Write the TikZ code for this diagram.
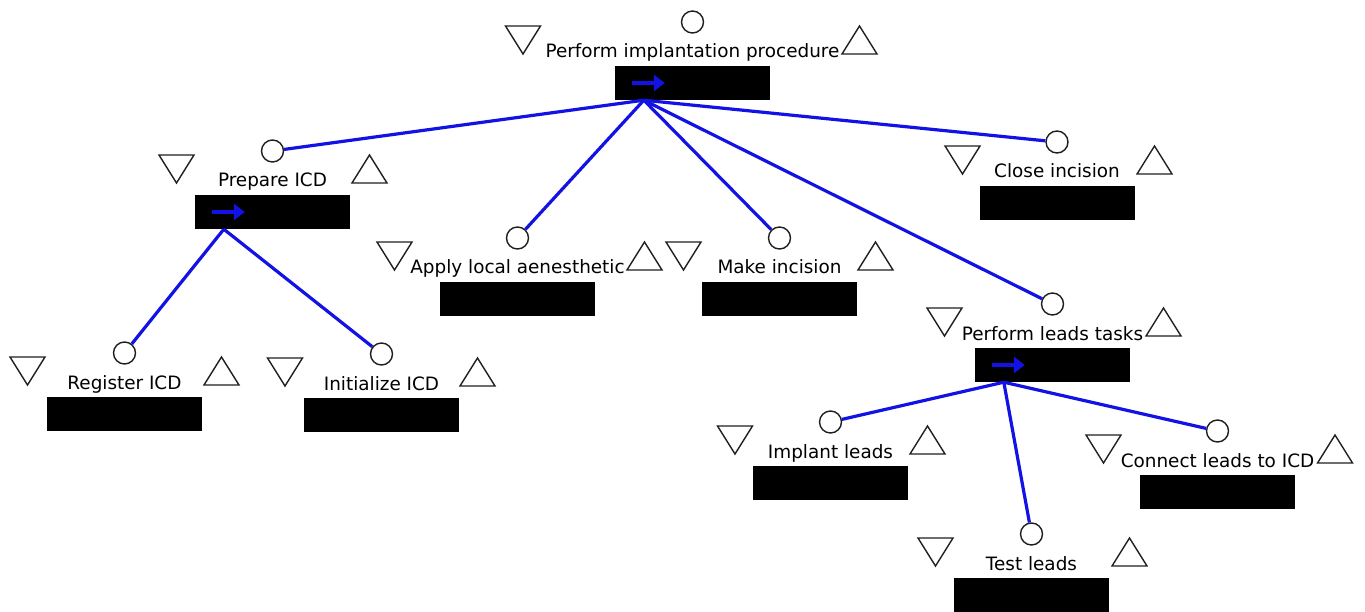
\documentclass[tikz,border=0pt]{standalone}
\usepackage{fontspec}
\setmainfont{DejaVu Sans}
\usetikzlibrary{arrows.meta}
\definecolor{linkblue}{RGB}{18,18,228}
\definecolor{inkgray}{RGB}{30,30,30}

% one task: hook circle (named #1), label, black slot, and the two triangle markers
% #1 id, #2 centre x, #3 slot top y, #4 label, #5 left marker offset, #6 right marker offset
\newcommand\tasknode[6]{%
  \node[hook] (#1) at (#2,#3-44) {};
  \node[lbl,anchor=base] (#1-t) at (#2,#3-8) {#4};
  \node[slot] (#1-s) at (#2,#3+17) {};
  \pic at (#2-#5,#3-26) {downtri};
  \pic at (#2+#6,#3-26) {uptri};
}
% sequence arrow inside a slot, plus the point where child links start
\newcommand\seqmark[1]{%
  \draw[seq] ([xshift=17pt]#1-s.west) -- ++(33,0);
  \coordinate (#1-o) at ([xshift=29pt]#1-s.south west);
}

\begin{document}
\begin{tikzpicture}[x=1pt,y=-1pt,
  hook/.style={circle,draw=inkgray,line width=1.4pt,minimum size=22pt,inner sep=0pt,fill=white},
  lbl/.style={font=\fontsize{18.4}{20}\selectfont,text=black,inner sep=0pt},
  slot/.style={fill=black,minimum width=155pt,minimum height=34pt,inner sep=0pt},
  link/.style={draw=linkblue,line width=3.2pt},
  seq/.style={draw=linkblue,line width=4.5pt,-{Triangle[length=11pt,width=16pt]}},
  tri/.style={draw=inkgray,line width=1.4pt,line join=miter},
  downtri/.pic={\draw[tri] (-17.5,-14) -- (17.5,-14) -- (0,14) -- cycle;},
  uptri/.pic={\draw[tri] (-17.5,14) -- (17.5,14) -- (0,-14) -- cycle;}
]
\useasboundingbox (0,0) rectangle (1365,612);

\tasknode{root}{692.5}{66}{Perform implantation procedure}{169.5}{167}
\tasknode{prep}{272.5}{195}{Prepare ICD}{96}{97}
\tasknode{close}{1057}{186}{Close incision}{94.5}{97.5}
\tasknode{apply}{517.5}{282}{Apply local aenesthetic}{123}{127}
\tasknode{make}{779.5}{282}{Make incision}{96}{96}
\tasknode{reg}{124.5}{397}{Register ICD}{97}{97}
\tasknode{init}{381.5}{398}{Initialize ICD}{96.5}{96}
\tasknode{implant}{830.5}{466}{Implant leads}{95.5}{97}
\tasknode{connect}{1217.5}{475}{Connect leads to ICD}{114}{117.5}
\tasknode{test}{1031.5}{578}{Test leads}{96}{98}
\tasknode{leads}{1052.5}{348}{Perform leads tasks}{108}{111}

\seqmark{root}
\seqmark{prep}
\seqmark{leads}

\foreach \c in {prep,apply,make,leads,close}
  \draw[link] (root-o) -- (\c);
\foreach \c in {reg,init}
  \draw[link] (prep-o) -- (\c);
\foreach \c in {implant,test,connect}
  \draw[link] (leads-o) -- (\c);
\end{tikzpicture}
\end{document}
